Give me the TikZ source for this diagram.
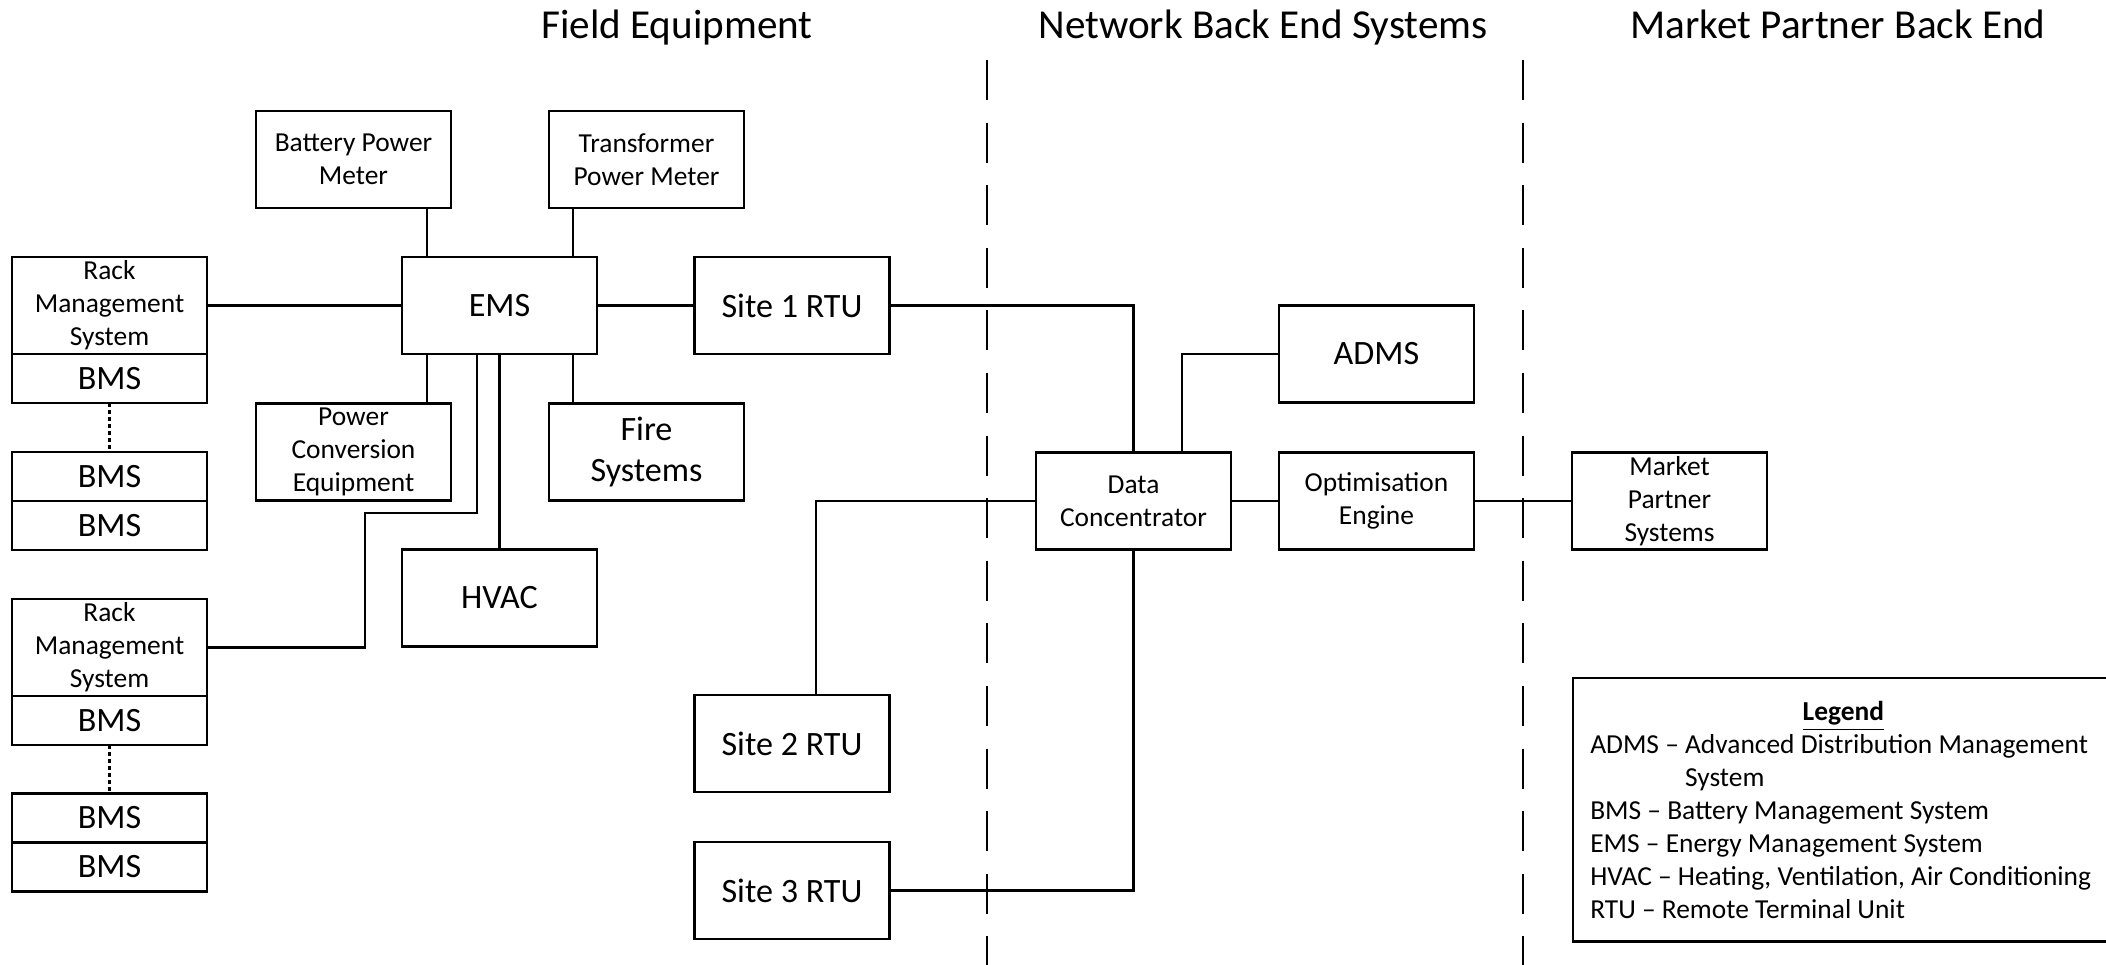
\documentclass[tikz,border=0pt]{standalone}
\usepackage{fontspec}
\setmainfont{Carlito}
\usetikzlibrary{positioning}

\begin{document}
\begin{tikzpicture}[x=0.01cm, y=-0.01cm, line width=0.7pt,
  every node/.style={font=\fontsize{9.7}{11.9}\selectfont},
  unit/.style={draw, align=center, inner sep=0.5pt, outer sep=0pt, minimum width=1.95cm, minimum height=0.97cm},
  small/.style={font=\fontsize{7.8}{9.4}\selectfont},
  bmsbox/.style={unit, minimum height=0.49cm},
  zone/.style={font=\fontsize{11.7}{14}\selectfont, anchor=base},
  divider/.style={dash pattern=on 11.4pt off 6.4pt},
  chain/.style={dash pattern=on 1pt off 1pt}]
\path[use as bounding box] (0,0) rectangle (2106,965);
\clip (0,0) rectangle (2106,965);

% zone headings and borders
\node[zone] (fe) at (677,39) {Field Equipment};
\node[zone] (nbe) at (1263,39) {Network Back End Systems};
\node[zone] (mpb) at (1838,39) {Market Partner Back End};
\draw[divider] (987,60) -- (987,965);
\draw[divider] (1523,60) -- (1523,965);

% field equipment
\node[unit, small] (bpm) at (353.5,159.5) {Battery Power\\Meter};
\node[unit, small] (tpm) at (646.5,159.5) {Transformer\\Power Meter};
\node[unit] (ems) at (499.5,305.5) {EMS};
\node[unit, small] (rack1) at (109.5,305.5) {Rack\\Management\\System};
\node[bmsbox, below=0pt of rack1] (bms1) {BMS};
\node[bmsbox] (bms2) at (109.5,476.5) {BMS};
\node[bmsbox, below=0pt of bms2] (bms3) {BMS};
\node[unit, small] (pce) at (353.5,452) {Power\\Conversion\\Equipment};
\node[unit] (fire) at (646.5,452) {Fire\\Systems};
\node[unit] (hvac) at (499.5,598) {HVAC};
\node[unit, small] (rack2) at (109.5,647.5) {Rack\\Management\\System};
\node[bmsbox, below=0pt of rack2] (bms4) {BMS};
\node[bmsbox] (bms5) at (109.5,818) {BMS};
\node[bmsbox, below=0pt of bms5] (bms6) {BMS};
\node[unit] (site1) at (792,305.5) {Site 1 RTU};
\node[unit] (site2) at (792,743.5) {Site 2 RTU};
\node[unit] (site3) at (792,890.5) {Site 3 RTU};

% back end
\node[unit, small] (dc) at (1133.5,501) {Data\\Concentrator};
\node[unit] (adms) at (1376.5,354) {ADMS};
\node[unit, small] (opt) at (1376.5,501) {Optimisation\\Engine};
\node[unit, small] (mps) at (1669.5,501) {Market\\Partner\\Systems};

% legend
\node[draw, small, anchor=north west, align=left, minimum width=5.4cm, minimum height=2.63cm, inner xsep=0.15cm, inner ysep=5pt] (legend) at (1572,677) {%
\makebox[5.06cm]{\textbf{\underline{Legend}}}\\
ADMS -- Advanced Distribution Management\\
\phantom{ADMS -- }System\\
BMS -- Battery Management System\\
EMS -- Energy Management System\\
HVAC -- Heating, Ventilation, Air Conditioning\\
RTU -- Remote Terminal Unit};

% links
\coordinate (lanea) at (427,0);
\coordinate (laneb) at (573,0);
\coordinate (lanec) at (1182,0);
\coordinate (laned) at (816,0);
\coordinate (bend1) at (477,513);
\coordinate (bend2) at (365,513);
\draw (bpm.south -| lanea) -- (ems.north -| lanea);
\draw (tpm.south -| laneb) -- (ems.north -| laneb);
\draw (pce.north -| lanea) -- (ems.south -| lanea);
\draw (fire.north -| laneb) -- (ems.south -| laneb);
\foreach \a/\b in {rack1/ems, ems/site1, ems/hvac, dc/opt, opt/mps}
  \draw (\a) -- (\b);
\draw (ems.south -| bend1) -- (bend1) -- (bend2) |- (rack2.east);
\draw (site1) -| (dc);
\draw (site3) -| (dc);
\draw (adms) -| (dc.north -| lanec);
\draw (dc) -| (site2.north -| laned);
\draw[chain] (bms1) -- (bms2);
\draw[chain] (bms4) -- (bms5);
\end{tikzpicture}
\end{document}
